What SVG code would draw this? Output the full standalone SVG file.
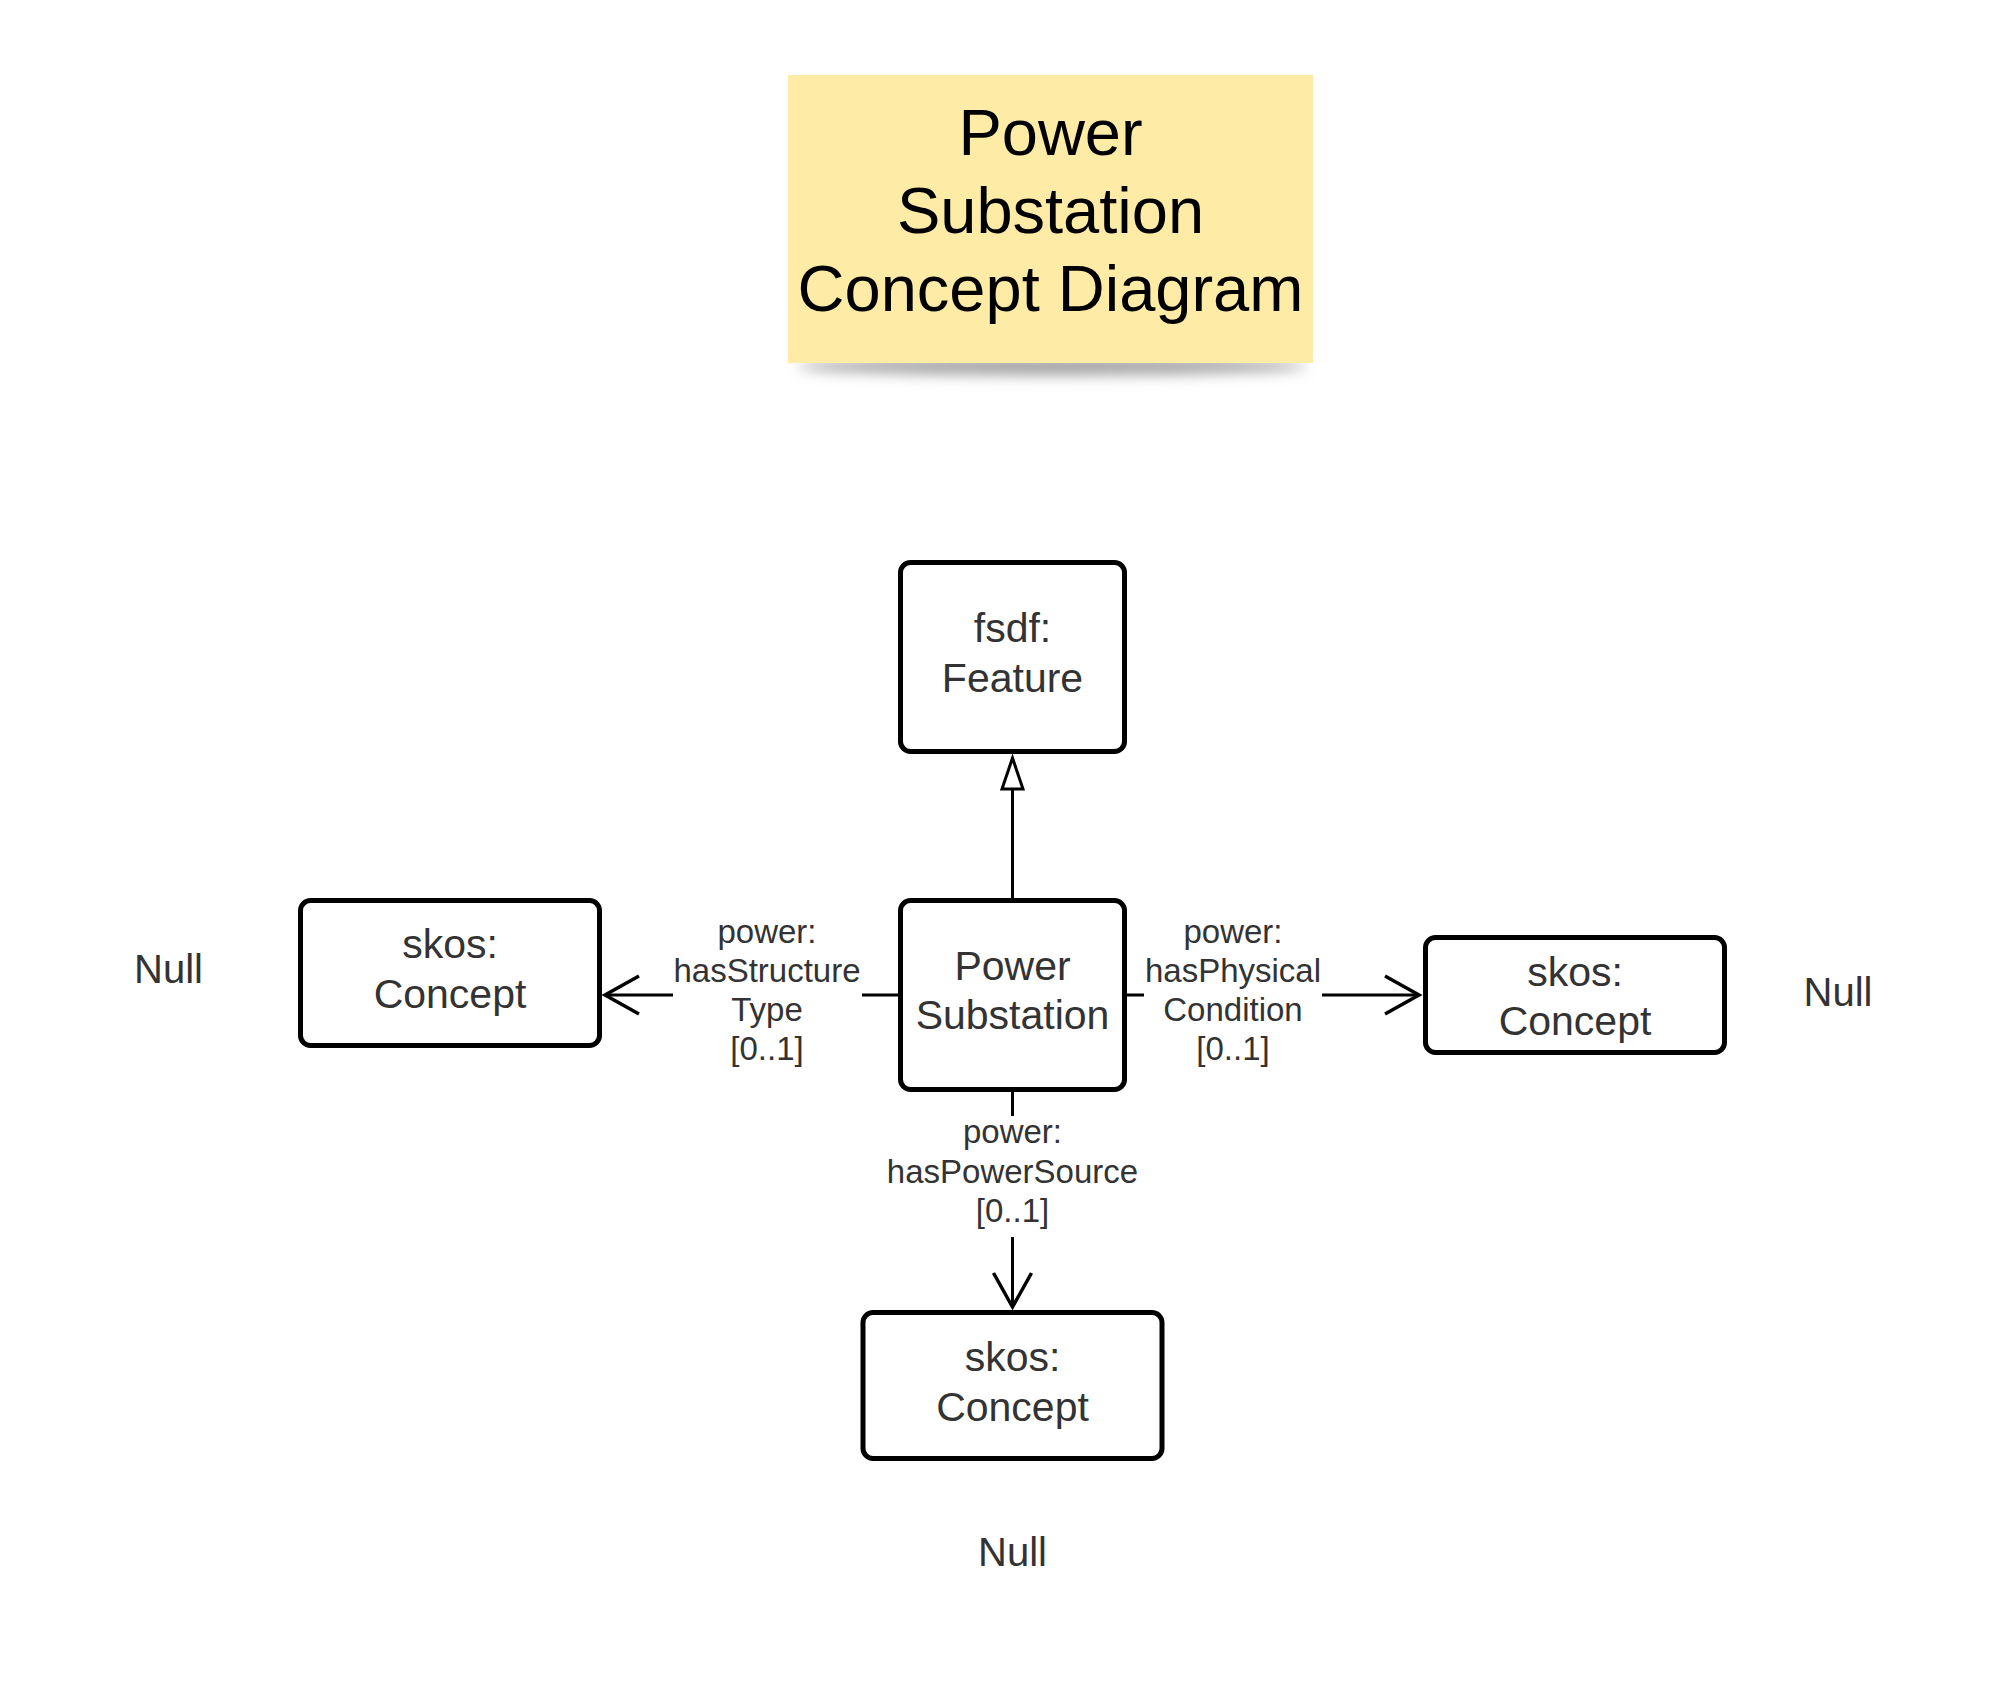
<svg xmlns="http://www.w3.org/2000/svg" width="2006" height="1688" viewBox="0 0 2006 1688">
  <style>
    .node { fill: #ffffff; stroke: #000000; stroke-width: 5; }
    .ntext { font-family: "Liberation Sans", Arial, sans-serif; font-size: 41px; fill: #333333; text-anchor: middle; }
    .ltext { font-family: "Liberation Sans", Arial, sans-serif; font-size: 33px; fill: #333333; text-anchor: middle; }
    .null { font-family: "Liberation Sans", Arial, sans-serif; font-size: 40px; fill: #333333; text-anchor: middle; }
    .title { font-family: "Liberation Sans", Arial, sans-serif; font-size: 65px; fill: #000000; text-anchor: middle; }
    .conn { fill: none; stroke: #000000; stroke-width: 3; }
    .head { fill: none; stroke: #000000; stroke-width: 3.5; stroke-linejoin: miter; }
    .tri { fill: #ffffff; stroke: #000000; stroke-width: 3; }
  </style>
  <defs>
    <filter id="blur" x="-20%" y="-300%" width="140%" height="700%">
      <feGaussianBlur stdDeviation="7"/>
    </filter>
  </defs>
  <rect width="2006" height="1688" fill="#ffffff"/>

  <g id="title">
    <ellipse cx="1052" cy="366" rx="255" ry="9" fill="#a0a0a0" filter="url(#blur)"/>
    <rect x="788" y="75" width="525" height="288" fill="#feeba6"/>
    <text class="title" x="1050.5" y="155">Power</text>
    <text class="title" x="1050.5" y="233">Substation</text>
    <text class="title" x="1050.5" y="311">Concept Diagram</text>
  </g>

  <g id="connectors">
    <line class="conn" x1="1012.5" y1="898" x2="1012.5" y2="789"/>
    <polygon class="tri" points="1012.5,758 1002,789 1023,789"/>

    <line class="conn" x1="898" y1="995" x2="862" y2="995"/>
    <line class="conn" x1="673" y1="995" x2="605" y2="995"/>
    <polyline class="head" points="639,976 605,995 639,1014"/>

    <line class="conn" x1="1127" y1="995" x2="1144" y2="995"/>
    <line class="conn" x1="1322" y1="995" x2="1419" y2="995"/>
    <polyline class="head" points="1385,976 1419,995 1385,1014"/>

    <line class="conn" x1="1012.5" y1="1092" x2="1012.5" y2="1116"/>
    <line class="conn" x1="1012.5" y1="1237" x2="1012.5" y2="1307"/>
    <polyline class="head" points="993.5,1273 1012.5,1307 1031.5,1273"/>
  </g>

  <g id="label-structure">
    <text class="ltext" x="767" y="943">power:</text>
    <text class="ltext" x="767" y="982">hasStructure</text>
    <text class="ltext" x="767" y="1021">Type</text>
    <text class="ltext" x="767" y="1060">[0..1]</text>
  </g>
  <g id="label-physical">
    <text class="ltext" x="1233" y="943">power:</text>
    <text class="ltext" x="1233" y="982">hasPhysical</text>
    <text class="ltext" x="1233" y="1021">Condition</text>
    <text class="ltext" x="1233" y="1060">[0..1]</text>
  </g>
  <g id="label-powersource">
    <text class="ltext" x="1012.5" y="1143">power:</text>
    <text class="ltext" x="1012.5" y="1183">hasPowerSource</text>
    <text class="ltext" x="1012.5" y="1222">[0..1]</text>
  </g>

  <g id="node-feature">
    <rect class="node" x="900.5" y="562.5" width="224" height="189" rx="10"/>
    <text class="ntext" x="1012.5" y="642">fsdf:</text>
    <text class="ntext" x="1012.5" y="692">Feature</text>
  </g>
  <g id="node-substation">
    <rect class="node" x="900.5" y="900.5" width="224" height="189" rx="10"/>
    <text class="ntext" x="1012.5" y="980">Power</text>
    <text class="ntext" x="1012.5" y="1029">Substation</text>
  </g>
  <g id="node-concept-left">
    <rect class="node" x="300.5" y="900.5" width="299" height="145" rx="10"/>
    <text class="ntext" x="450" y="958">skos:</text>
    <text class="ntext" x="450" y="1008">Concept</text>
  </g>
  <g id="node-concept-right">
    <rect class="node" x="1425.5" y="937.5" width="299" height="115" rx="10"/>
    <text class="ntext" x="1575" y="986">skos:</text>
    <text class="ntext" x="1575" y="1035">Concept</text>
  </g>
  <g id="node-concept-bottom">
    <rect class="node" x="863" y="1312.5" width="299" height="146" rx="10"/>
    <text class="ntext" x="1012.5" y="1371">skos:</text>
    <text class="ntext" x="1012.5" y="1421">Concept</text>
  </g>

  <g id="null-left"><text class="null" x="168.5" y="983">Null</text></g>
  <g id="null-right"><text class="null" x="1838" y="1006">Null</text></g>
  <g id="null-bottom"><text class="null" x="1012.5" y="1566">Null</text></g>
</svg>
